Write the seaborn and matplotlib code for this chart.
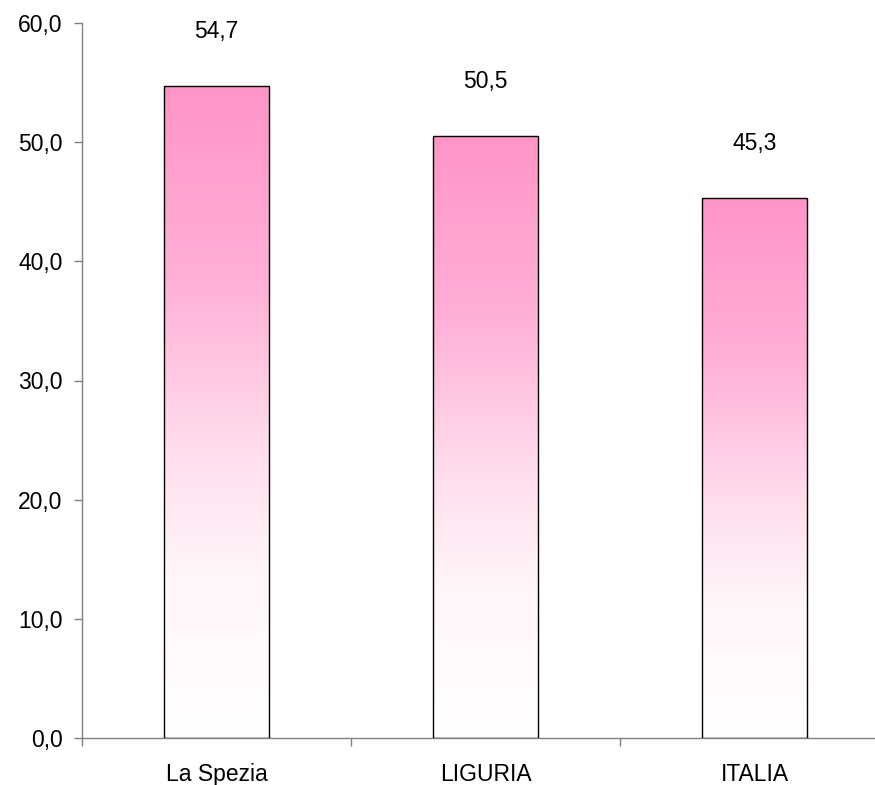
import numpy as np
import pandas as pd
import matplotlib
matplotlib.use("Agg")
import matplotlib.pyplot as plt
from matplotlib.colors import LinearSegmentedColormap
from matplotlib.ticker import FixedLocator, FuncFormatter
import seaborn as sns

categories = ["La Spezia", "LIGURIA", "ITALIA"]
values = [54.7, 50.5, 45.3]
y_ticks = [0, 10, 20, 30, 40, 50, 60]

sns.set_style("white")
plt.rcParams["font.family"] = ["Liberation Sans", "DejaVu Sans"]
plt.rcParams["text.color"] = "black"
plt.rcParams["xtick.color"] = "black"
plt.rcParams["ytick.color"] = "black"
FS = 16.5

df = pd.DataFrame({"area": categories, "valore": values})

fig = plt.figure(figsize=(8.75, 7.85), dpi=100)
ax = fig.add_axes([82 / 875, 47 / 785, 807 / 875, 715 / 785])

sns.barplot(data=df, x="area", y="valore", ax=ax, width=0.394,
            facecolor="none", edgecolor="black", linewidth=1.0, zorder=3)

# vertical pink-to-white gradient inside every bar
cmap = LinearSegmentedColormap.from_list(
    "rosa", [(0.0, "#ffffff"), (0.25, "#fff6fa"), (0.45, "#ffdcec"),
             (0.7, "#ffb0d7"), (1.0, "#ff95c8")])
grad = np.linspace(0, 1, 256).reshape(-1, 1)
for patch in ax.patches:
    x0 = patch.get_x()
    w, h = patch.get_width(), patch.get_height()
    im = ax.imshow(grad, cmap=cmap, origin="lower", aspect="auto",
                   extent=[x0, x0 + w, 0, h], zorder=2, interpolation="bilinear")
    im.set_clip_path(patch)
    ax.text(x0 + w / 2, h + 4.6, f"{h:.1f}".replace(".", ","),
            ha="center", va="center", fontsize=FS, color="black", zorder=4)

ax.set_xlim(-0.5, 2.5)
ax.set_ylim(0, 60)

ax.yaxis.set_major_locator(FixedLocator(y_ticks))
ax.yaxis.set_major_formatter(FuncFormatter(lambda v, p: f"{v:.1f}".replace(".", ",")))
ax.tick_params(axis="y", direction="out", length=6, width=1, color="#808080",
               pad=8, labelsize=FS, labelcolor="black", left=True)

ax.set_xticks(range(len(categories)))
ax.set_xticklabels(categories)
ax.xaxis.set_minor_locator(FixedLocator([-0.5, 0.5, 1.5, 2.5]))
ax.tick_params(axis="x", which="major", length=0, pad=18, labelsize=FS,
               labelcolor="black")
ax.tick_params(axis="x", which="minor", direction="out", length=6, width=1,
               color="#808080", bottom=True)

ax.set_xlabel("")
ax.set_ylabel("")
for side in ["top", "right"]:
    ax.spines[side].set_visible(False)
for side in ["left", "bottom"]:
    ax.spines[side].set_color("#808080")
    ax.spines[side].set_linewidth(1)
ax.grid(False)

fig.savefig("out.png", dpi=100)
